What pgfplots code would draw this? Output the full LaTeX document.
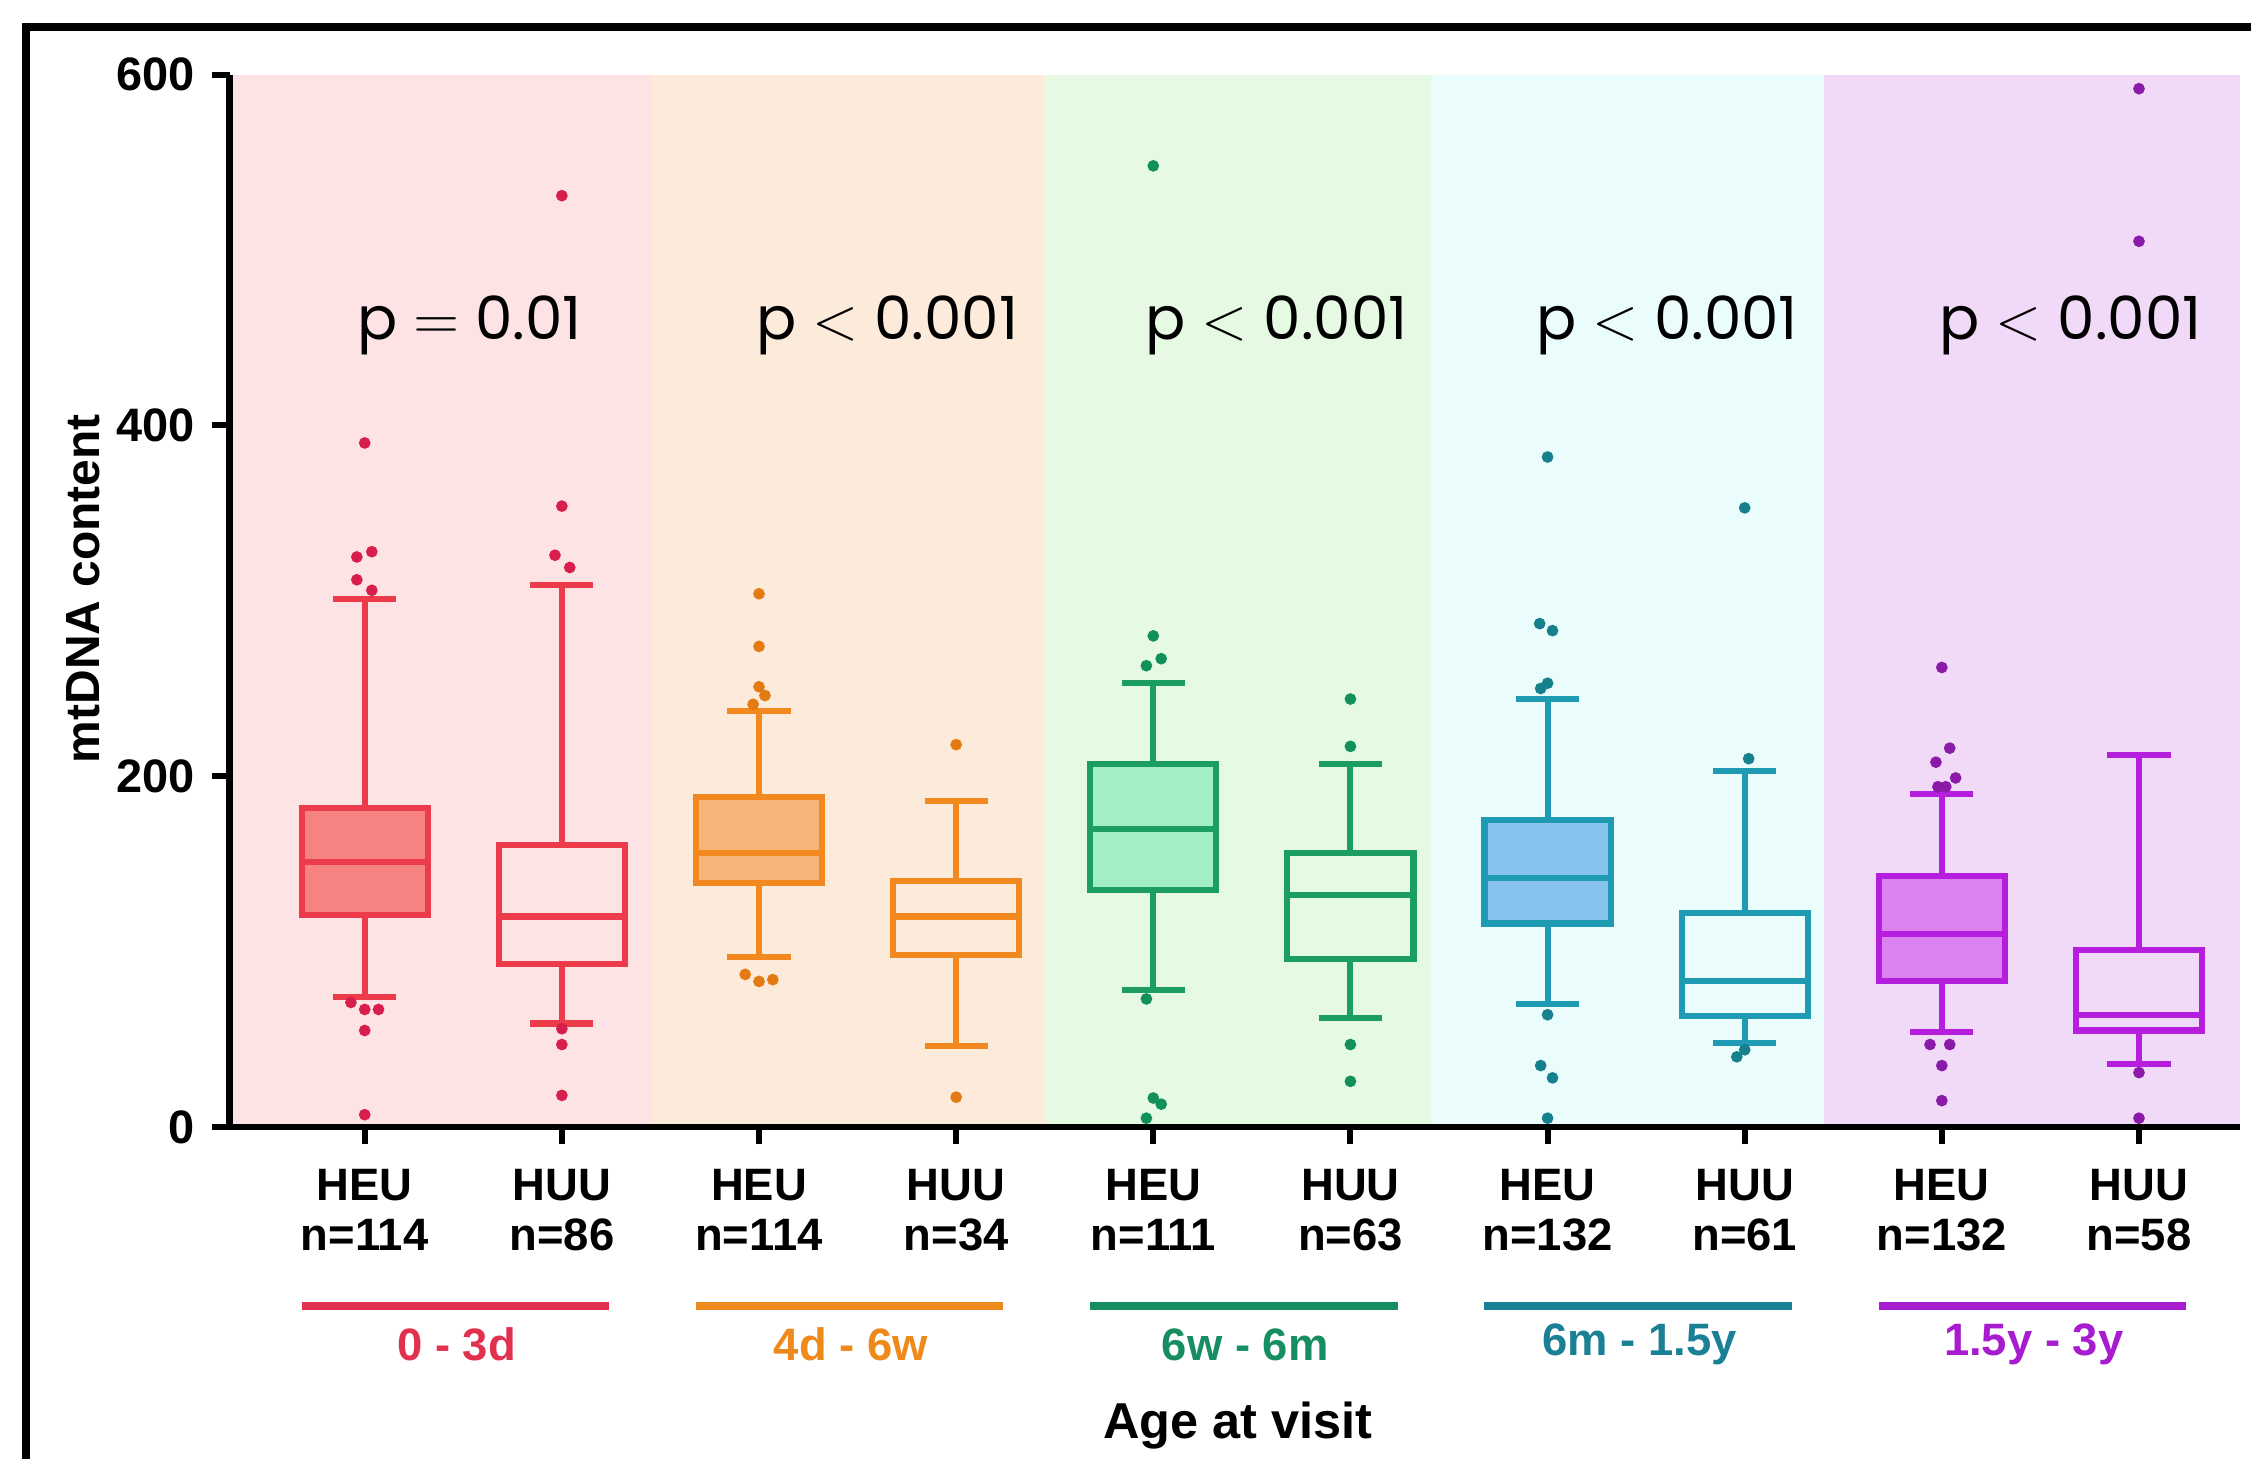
\documentclass[border=0pt]{standalone}
\usepackage{pgfplots}
\pgfplotsset{compat=1.18}
\usepgfplotslibrary{statistics}
\usepackage{fontspec}
\setmainfont{Liberation Sans}
\newfontfamily\pfont{Poppins}
% line colours
\definecolor{cA}{HTML}{EC3B4A}
\definecolor{cB}{HTML}{F2891E}
\definecolor{cC}{HTML}{1C9E62}
\definecolor{cD}{HTML}{1E9BB2}
\definecolor{cE}{HTML}{B41EDC}
% fills
\definecolor{fA}{HTML}{F78282}
\definecolor{fB}{HTML}{F6B37A}
\definecolor{fC}{HTML}{A4EEC6}
\definecolor{fD}{HTML}{88C3EE}
\definecolor{fE}{HTML}{DC82F0}
% dots
\definecolor{dA}{HTML}{D81E4C}
\definecolor{dB}{HTML}{E47A12}
\definecolor{dC}{HTML}{12905A}
\definecolor{dD}{HTML}{16808C}
\definecolor{dE}{HTML}{8A1AA8}
% group label colours
\definecolor{gA}{HTML}{E2304F}
\definecolor{gB}{HTML}{EE8A1C}
\definecolor{gC}{HTML}{178E62}
\definecolor{gD}{HTML}{1A8096}
\definecolor{gE}{HTML}{A81CD0}
% backgrounds
\definecolor{bA}{HTML}{FDE3E3}
\definecolor{bB}{HTML}{FCEADB}
\definecolor{bC}{HTML}{E6FAE3}
\definecolor{bD}{HTML}{EAFCFC}
\definecolor{bE}{HTML}{F1D9F8}
\newcommand{\pv}[1]{{\pfont\fontsize{11.8}{13}\selectfont #1}}
\begin{document}
\begin{tikzpicture}
\useasboundingbox (0,0) rectangle (15.68cm,-10.16cm);
\draw[line width=1.5pt] (0.18cm,-12cm) -- (0.18cm,-0.19cm) -- (17cm,-0.19cm);
\begin{axis}[
  at={(1.60cm,-7.85cm)}, anchor=south west,
  scale only axis, width=14.0cm, height=7.33cm,
  xmin=-0.685, xmax=9.51, ymin=0, ymax=600,
  axis x line*=bottom, axis y line*=left,
  axis line style={line width=1.3pt, black},
  axis on top,
  clip=false,
  ytick={0,200,400,600},
  xtick={0,...,9},
  xticklabels={{HEU\\n=114},{HUU\\n=86},{HEU\\n=114},{HUU\\n=34},{HEU\\n=111},{HUU\\n=63},{HEU\\n=132},{HUU\\n=61},{HEU\\n=132},{HUU\\n=58}},
  tick align=outside,
  major tick length=0.12cm,
  tick style={line width=1.2pt, black},
  /pgf/number format/assume math mode=true,
  yticklabel style={font=\bfseries\fontsize{9.3}{10}\selectfont},
  xticklabel style={align=center, font=\bfseries\fontsize{9}{10}\selectfont, yshift=-0.05cm},
  boxplot/draw direction=y,
]
% background bands
\addplot[fill=bA, draw=none] coordinates {(-0.685,600) (1.45,600)} \closedcycle;
\addplot[fill=bB, draw=none] coordinates {(1.45,600) (3.45,600)} \closedcycle;
\addplot[fill=bC, draw=none] coordinates {(3.45,600) (5.41,600)} \closedcycle;
\addplot[fill=bD, draw=none] coordinates {(5.41,600) (7.40,600)} \closedcycle;
\addplot[fill=bE, draw=none] coordinates {(7.40,600) (9.51,600)} \closedcycle;
% boxes
\pgfplotsset{mybox/.style={line width=1.2pt, solid, mark=none, boxplot/box extend=0.64, boxplot/whisker extend=0.32}}
\addplot[mybox, draw=cA, fill=fA, boxplot prepared={draw position=0, lower whisker=74, lower quartile=121, median=151, upper quartile=182, upper whisker=301}] coordinates {};
\addplot[mybox, draw=cA, boxplot prepared={draw position=1, lower whisker=59, lower quartile=93, median=120, upper quartile=161, upper whisker=309}] coordinates {};
\addplot[mybox, draw=cB, fill=fB, boxplot prepared={draw position=2, lower whisker=97, lower quartile=139, median=156, upper quartile=188, upper whisker=237}] coordinates {};
\addplot[mybox, draw=cB, boxplot prepared={draw position=3, lower whisker=46, lower quartile=98, median=120, upper quartile=140, upper whisker=186}] coordinates {};
\addplot[mybox, draw=cC, fill=fC, boxplot prepared={draw position=4, lower whisker=78, lower quartile=135, median=170, upper quartile=207, upper whisker=253}] coordinates {};
\addplot[mybox, draw=cC, boxplot prepared={draw position=5, lower whisker=62, lower quartile=96, median=132, upper quartile=156, upper whisker=207}] coordinates {};
\addplot[mybox, draw=cD, fill=fD, boxplot prepared={draw position=6, lower whisker=70, lower quartile=116, median=142, upper quartile=175, upper whisker=244}] coordinates {};
\addplot[mybox, draw=cD, boxplot prepared={draw position=7, lower whisker=48, lower quartile=63, median=83, upper quartile=122, upper whisker=203}] coordinates {};
\addplot[mybox, draw=cE, fill=fE, boxplot prepared={draw position=8, lower whisker=54, lower quartile=83, median=110, upper quartile=143, upper whisker=190}] coordinates {};
\addplot[mybox, draw=cE, boxplot prepared={draw position=9, lower whisker=36, lower quartile=55, median=64, upper quartile=101, upper whisker=212}] coordinates {};
% outliers
\pgfplotsset{outl/.style={only marks, mark=*, mark size=0.95pt}}
\addplot[outl, color=dA] coordinates {(0,390) (-0.04,325) (0.036,328) (-0.04,312) (0.036,306) (-0.07,71) (0,67) (0.07,67) (0,55) (0,7)
 (1,531) (1,354) (0.965,326) (1.04,319) (1,56) (1,47) (1,18)};
\addplot[outl, color=dB] coordinates {(2,304) (2,274) (2,251) (2.03,246) (1.97,241) (1.93,87) (2,83) (2.07,84) (3,218) (3,17)};
\addplot[outl, color=dC] coordinates {(4,548) (4,280) (3.965,263) (4.04,267) (3.965,73) (4,16.5) (4.04,13) (3.965,5) (5,244) (5,217) (5,47) (5,26)};
\addplot[outl, color=dD] coordinates {(6,382) (5.96,287) (6.025,283) (5.965,250) (6,253) (6,64) (5.965,35) (6.025,28) (6,5) (7,353) (7.02,210) (6.96,40) (7,44)};
\addplot[outl, color=dE] coordinates {(8,262) (8.04,216) (7.97,208) (8.07,199) (7.98,194) (8.02,194) (7.94,47) (8.04,47) (8,35) (8,15) (9,592) (9,505) (9,31) (9,5)};
% p-values
\node at (axis cs:0.532,457) {\pv{p $=$ 0.01}};
\node at (axis cs:2.651,457) {\pv{p $<$ 0.001}};
\node at (axis cs:4.625,457) {\pv{p $<$ 0.001}};
\node at (axis cs:6.606,457) {\pv{p $<$ 0.001}};
\node at (axis cs:8.653,457) {\pv{p $<$ 0.001}};
% group lines and labels
\draw[gA, line width=1.6pt] (axis cs:-0.32,-102) -- (axis cs:1.24,-102);
\draw[gB, line width=1.6pt] (axis cs:1.68,-102) -- (axis cs:3.24,-102);
\draw[gC, line width=1.6pt] (axis cs:3.68,-102) -- (axis cs:5.24,-102);
\draw[gD, line width=1.6pt] (axis cs:5.68,-102) -- (axis cs:7.24,-102);
\draw[gE, line width=1.6pt] (axis cs:7.68,-102) -- (axis cs:9.24,-102);
\node[text=gA, font=\bfseries\fontsize{9}{10}\selectfont] at (axis cs:0.466,-124) {0 - 3d};
\node[text=gB, font=\bfseries\fontsize{9}{10}\selectfont] at (axis cs:2.466,-124) {4d - 6w};
\node[text=gC, font=\bfseries\fontsize{9}{10}\selectfont] at (axis cs:4.466,-124) {6w - 6m};
\node[text=gD, font=\bfseries\fontsize{9}{10}\selectfont] at (axis cs:6.466,-124) {6m - 1.5y};
\node[text=gE, font=\bfseries\fontsize{9}{10}\selectfont] at (axis cs:8.466,-124) {1.5y - 3y};
\node[font=\bfseries\fontsize{10}{12}\selectfont] at (axis cs:4.43,-170) {Age at visit};
\end{axis}
\node[rotate=90, font=\bfseries\fontsize{9.5}{11}\selectfont] at (0.58cm,-4.10cm) {mtDNA content};
\end{tikzpicture}
\end{document}
